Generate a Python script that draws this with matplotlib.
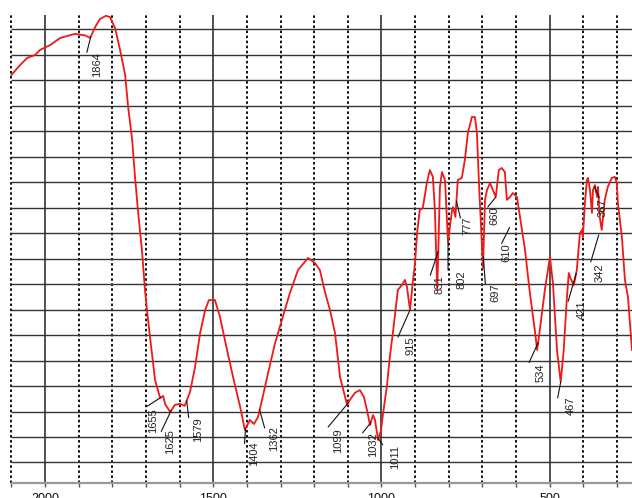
import numpy as np
import matplotlib
matplotlib.use('Agg')
import matplotlib.pyplot as plt
from matplotlib.transforms import offset_copy

plt.rcParams['font.family'] = ['Liberation Sans', 'DejaVu Sans']

# IR spectrum (wavenumber cm-1, transmittance in grid units)
wavenumber = [2100, 2074, 2053, 2030, 2015, 1985, 1955, 1911, 1881, 1866, 1851, 1837,
              1819, 1807, 1792, 1777, 1762, 1753, 1741, 1733, 1724, 1712, 1703, 1697,
              1688, 1673, 1658, 1649, 1643, 1628, 1614, 1599, 1585, 1569, 1554, 1539,
              1524, 1513, 1495, 1480, 1459, 1441, 1420, 1406, 1391, 1379, 1367, 1355,
              1337, 1316, 1293, 1272, 1248, 1218, 1198, 1183, 1168, 1153, 1138, 1123,
              1102, 1094, 1079, 1064, 1052, 1043, 1034, 1025, 1019, 1010, 1001, 995,
              984, 975, 966, 951, 939, 930, 924, 915, 906, 900, 894, 886,
              877, 865, 856, 847, 841, 834, 826, 820, 811, 802, 790, 787,
              780, 773, 761, 752, 743, 731, 722, 716, 710, 698, 692, 686,
              677, 660, 651, 642, 633, 627, 618, 609, 597, 588, 573, 559,
              544, 537, 529, 514, 499, 490, 478, 467, 458, 449, 443, 437,
              428, 419, 410, 404, 401, 395, 389, 386, 380, 374, 371, 365,
              359, 356, 351, 345, 336, 327, 315, 306, 300, 297, 285, 276,
              267, 255]
transmittance = [16.20, 16.59, 16.87, 16.98, 17.18, 17.37, 17.65, 17.81, 17.75, 17.65, 18.08, 18.39,
                 18.52, 18.47, 18.04, 17.18, 16.20, 14.94, 13.65, 12.27, 10.90, 9.33, 7.77, 6.98,
                 5.92, 4.24, 3.53, 3.61, 3.29, 2.98, 3.26, 3.30, 3.22, 3.77, 4.75, 6.08,
                 6.98, 7.37, 7.37, 6.71, 5.41, 4.35, 3.18, 2.28, 2.67, 2.51, 2.78, 3.45,
                 4.51, 5.69, 6.71, 7.65, 8.55, 9.02, 8.83, 8.55, 7.69, 6.98, 6.08, 4.35,
                 3.26, 3.45, 3.73, 3.84, 3.57, 3.06, 2.47, 2.86, 2.67, 1.88, 2.28, 2.94,
                 3.96, 5.14, 6.08, 7.77, 7.96, 8.16, 7.88, 6.98, 8.16, 8.83, 10.00, 10.90,
                 10.98, 11.96, 12.47, 12.20, 10.90, 7.77, 11.81, 12.39, 12.08, 9.65, 10.90, 11.02,
                 10.63, 12.08, 12.16, 12.86, 13.92, 14.55, 14.55, 13.92, 11.96, 8.63, 11.30, 11.69,
                 11.96, 11.41, 12.47, 12.55, 12.39, 11.30, 11.41, 11.57, 11.41, 10.63, 9.33, 7.69,
                 6.20, 5.41, 6.20, 7.77, 9.06, 8.04, 5.41, 4.16, 5.41, 7.37, 8.43, 8.20,
                 7.95, 8.55, 9.98, 10.12, 9.84, 11.18, 12.08, 12.16, 11.69, 10.79, 11.69, 11.88,
                 11.41, 11.81, 10.63, 10.12, 11.30, 11.81, 12.16, 12.20, 11.96, 11.18, 9.84, 8.16,
                 7.49, 5.41]

peak_labels = [1864, 1655, 1625, 1579, 1404, 1362, 1099, 1032, 1011, 915, 831, 802,
               777, 697, 660, 610, 534, 467, 421, 367, 342]

tick_values = [2000, 1500, 1000, 500]

# leader start offset, leader end offset, text offset (pixels from the peak point)
label_layout = {
    1864: ((0, 0), (-4, -16), (6, -16)),
    1655: ((0, 0), (-14, -9), (-8, -11)),
    1625: ((0, 0), (-10, -21), (-1, -19)),
    1579: ((0, 0), (2, -17), (11, -17)),
    1404: ((0, 0), (-1, -15), (9, -13)),
    1362: ((0, 0), (5, -18), (14, -16)),
    1099: ((0, 0), (-20, -24), (-10, -25)),
    1032: ((0, 0), (-8, -10), (2, -9)),
    1011: ((0, 0), (5, -7), (17, -7)),
    915: ((0, 0), (-12, -27), (0, -26)),
    831: ((0, 0), (-8, -24), (1, -24)),
    802: ((0, 0), (0, -28), (13, -28)),
    777: ((0, 0), (4, -17), (11, -16)),
    697: ((0, 0), (2, -27), (12, -27)),
    660: ((0, 0), (-8, -10), (-1, -9)),
    610: ((-3, -34), (-11, -50), (-6, -50)),
    534: ((0, 0), (-9, -20), (2, -21)),
    467: ((0, 0), (-3, -16), (10, -15)),
    421: ((0, 0), (-8, -28), (6, -27)),
    367: ((0, 0), (5, -11), (8, -12)),
    342: ((-4, -15), (-12, -42), (-3, -43)),
}

fig = plt.figure(figsize=(6.32, 4.98), dpi=100)
ax = fig.add_axes([0, 15 / 498, 1, 468 / 498])

x_left, x_right = 2134, 255
ax.set_xlim(x_left, x_right)
ax.set_ylim(0.196, 18.55)

# grid: solid at every 500, dotted at the other hundreds, solid horizontals
for w in range(2100, 299, -100):
    if w % 500 == 0:
        ax.axvline(w, color='#222222', lw=1.1, zorder=1)
    else:
        ax.axvline(w, color='#111111', lw=1.4, ls=(0, (1.3, 1.3)), zorder=1)
for k in range(1, 19):
    ax.hlines(k, 2100, x_right, color='#333333', lw=1.0, zorder=1)
ax.hlines(0.196, 2100, x_right, color='#999999', lw=1.6, zorder=2, clip_on=False)

ax.plot(wavenumber, transmittance, color='#f01818', lw=1.3, zorder=3)

wn = np.array(wavenumber)[::-1]
tr = np.array(transmittance)[::-1]
for lab in peak_labels:
    (sx, sy), (ex, ey), (tx, ty) = label_layout[lab]
    v = np.interp(lab, wn, tr)
    start_tr = offset_copy(ax.transData, fig=fig, x=sx, y=sy, units='dots')
    end_tr = offset_copy(ax.transData, fig=fig, x=ex, y=ey, units='dots')
    ax.annotate('', xy=(lab, v), xycoords=start_tr, xytext=(lab, v), textcoords=end_tr,
                arrowprops=dict(arrowstyle='-', color='#111111', lw=0.8,
                                shrinkA=0, shrinkB=0), zorder=4)
    ax.text(lab, v, str(lab), rotation=90, ha='center', va='top', fontsize=8,
            color='#222222', zorder=5,
            transform=offset_copy(ax.transData, fig=fig, x=tx, y=ty, units='dots'))

for s in ax.spines.values():
    s.set_visible(False)
ax.set_yticks([])
ax.set_xticks(range(2100, 299, -100))
ax.set_xticklabels([str(t) if t in tick_values else '' for t in range(2100, 299, -100)])
ax.tick_params(axis='x', direction='out', length=3, width=1, color='#555555',
               labelsize=9, pad=4, labelcolor='#111111')

fig.savefig('out.png', dpi=100)
plt.close(fig)
